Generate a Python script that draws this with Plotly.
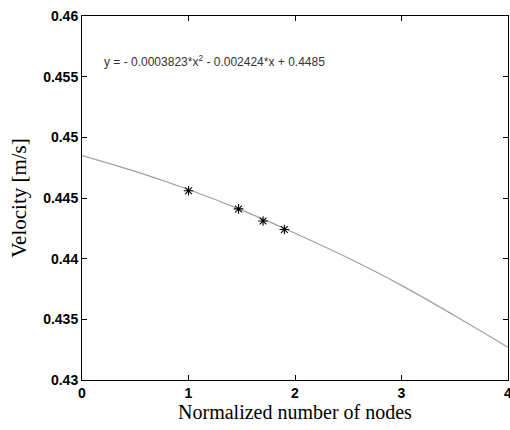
import plotly.graph_objects as go

# measured points
pts_x = [1.0, 1.47, 1.7, 1.9]
pts_y = [0.4456, 0.4441, 0.4431, 0.4424]

# fitted curve
fit_x = [0, 0.5, 1, 1.5, 2, 2.5, 3, 3.5, 4]
fit_y = [0.4485, 0.4472, 0.4457, 0.4440, 0.4421, 0.44005, 0.4378, 0.4353, 0.4327]

x_ticks = [0, 1, 2, 3, 4]
y_ticks = [0.43, 0.435, 0.44, 0.445, 0.45, 0.455, 0.46]

fig = go.Figure()
fig.add_trace(go.Scatter(x=fit_x, y=fit_y, mode="lines", line=dict(color="#a0a0a0", width=1.2, shape="spline"),
                         showlegend=False, hoverinfo="skip"))
fig.add_trace(go.Scatter(x=pts_x, y=pts_y, mode="markers",
                         marker=dict(symbol="asterisk-open", size=8, color="black", line=dict(color="black", width=1.1)),
                         showlegend=False, cliponaxis=False))

fig.add_annotation(x=0.187, y=0.4563, xref="x", yref="y", xanchor="left", yanchor="middle", showarrow=False,
                   text="y = - 0.0003823*x<sup>2</sup> - 0.002424*x + 0.4485",
                   font=dict(family="Liberation Sans Narrow, Arial Narrow, Liberation Sans", size=12, color="#333"))

axis_common = dict(showline=True, linecolor="black", linewidth=1, mirror="ticks", ticks="inside", ticklen=5,
                   tickcolor="black", showgrid=False, zeroline=False, ticklabeloverflow="allow",
                   tickfont=dict(family="Liberation Sans, Arial", size=14, color="black", weight="bold"))

fig.update_xaxes(range=[0, 4], tickvals=x_ticks, ticktext=[str(v) for v in x_ticks],
                 title=dict(text="Normalized number of nodes", standoff=2,
                            font=dict(family="Liberation Serif, Times New Roman", size=20, color="black")),
                 **axis_common)
fig.update_yaxes(range=[0.43, 0.46], tickvals=y_ticks, ticktext=[f"{v:g}" for v in y_ticks],
                 title=dict(text="Velocity [m/s]", standoff=10,
                            font=dict(family="Liberation Serif, Times New Roman", size=21, color="black")),
                 **axis_common)

fig.update_layout(width=512, height=430, margin=dict(l=82, r=0, t=16, b=50),
                  plot_bgcolor="white", paper_bgcolor="white")

fig.write_html("out.html", config={"displayModeBar": False},
               post_script="document.body.style.margin='0';document.documentElement.style.overflow='hidden';document.body.style.overflow='hidden';")
